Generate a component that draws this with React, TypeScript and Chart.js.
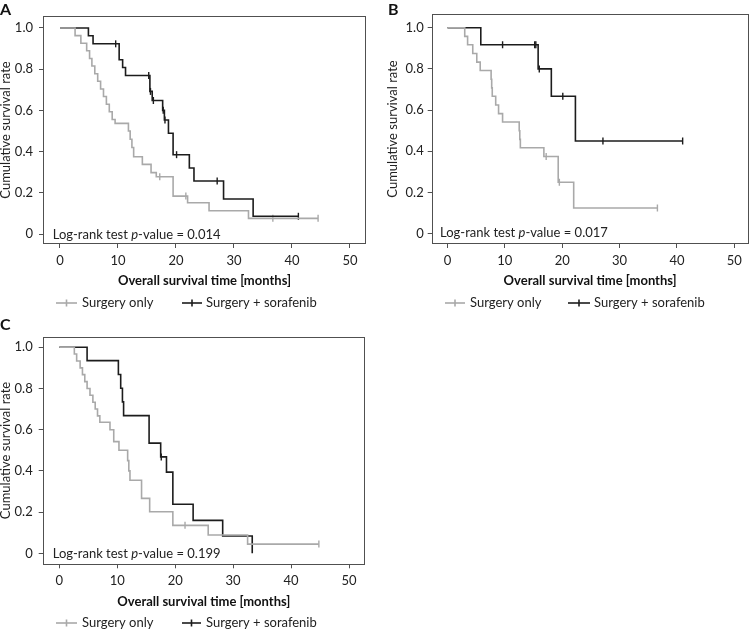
import React, { useEffect, useRef } from 'react';
import { Chart, registerables } from 'chart.js';

Chart.register(...registerables);

// ---------- tick labels / texts ----------
const X_TICKS = [0, 10, 20, 30, 40, 50];
const Y_TICKS = [0, 0.2, 0.4, 0.6, 0.8, 1.0];
const SERIES_LABELS = ['Surgery only', 'Surgery + sorafenib'];
const PANEL_LETTERS = ['A', 'B', 'C'];
const P_VALUES = ['0.014', '0.017', '0.199'];
const X_TITLE = 'Overall survival time [months]';
const Y_TITLE = 'Cumulative survival rate';

// ---------- Panel A ----------
const A_ONLY_T = [0, 2.6, 3.6, 4.6, 5.1, 5.5, 6.0, 6.5, 7.0, 7.5, 8.0, 8.5, 9.0, 9.5, 11.8, 12.1, 12.4, 12.7, 14.2, 15.7, 16.6, 19.5, 22.0, 25.7, 32.5];
const A_ONLY_S = [1, 0.963, 0.926, 0.889, 0.852, 0.815, 0.778, 0.741, 0.704, 0.667, 0.63, 0.593, 0.556, 0.537, 0.5, 0.46, 0.42, 0.375, 0.338, 0.298, 0.278, 0.184, 0.152, 0.113, 0.076];
const A_ONLY_CT = [17.2, 21.7, 36.7, 44.5];
const A_ONLY_CS = [0.278, 0.184, 0.076, 0.076];

const A_SORA_T = [0, 4.9, 5.7, 10.2, 10.8, 11.3, 15.5, 15.9, 17.7, 18.0, 18.7, 19.5, 22.3, 23.1, 28.2, 33.3];
const A_SORA_S = [1, 0.962, 0.923, 0.846, 0.808, 0.769, 0.692, 0.648, 0.6, 0.553, 0.489, 0.385, 0.32, 0.257, 0.17, 0.086];
const A_SORA_CT = [9.6, 15.3, 15.6, 16.1, 17.8, 18.1, 20.1, 27.1, 41.1];
const A_SORA_CS = [0.923, 0.769, 0.692, 0.648, 0.6, 0.553, 0.385, 0.257, 0.086];

// ---------- Panel B ----------
const B_ONLY_T = [0, 3.0, 3.5, 4.4, 5.1, 5.7, 7.6, 7.7, 7.8, 8.4, 8.9, 9.6, 12.5, 12.6, 12.7, 16.8, 19.3, 22.0];
const B_ONLY_S = [1, 0.958, 0.917, 0.875, 0.833, 0.792, 0.75, 0.708, 0.667, 0.625, 0.583, 0.542, 0.5, 0.458, 0.417, 0.375, 0.25, 0.125];
const B_ONLY_CT = [17.2, 19.5, 36.6];
const B_ONLY_CS = [0.375, 0.25, 0.125];

const B_SORA_T = [0, 5.8, 15.8, 18.1, 22.3];
const B_SORA_S = [1, 0.917, 0.8, 0.667, 0.45];
const B_SORA_CT = [9.6, 15.2, 15.4, 16.0, 20.1, 27.1, 41.0];
const B_SORA_CS = [0.917, 0.917, 0.917, 0.8, 0.667, 0.45, 0.45];

// ---------- Panel C ----------
const C_ONLY_T = [0, 2.6, 3.0, 3.6, 4.0, 4.4, 4.8, 5.3, 5.8, 6.2, 6.6, 7.0, 8.75, 9.4, 10.3, 11.8, 12.0, 12.2, 14.2, 15.6, 19.6, 25.7, 32.5];
const C_ONLY_S = [1, 0.967, 0.933, 0.9, 0.867, 0.833, 0.8, 0.767, 0.733, 0.7, 0.667, 0.636, 0.6, 0.542, 0.5, 0.45, 0.4, 0.355, 0.267, 0.202, 0.136, 0.089, 0.045];
const C_ONLY_CT = [21.7, 44.8];
const C_ONLY_CS = [0.136, 0.045];

const C_SORA_T = [0, 4.8, 10.2, 10.6, 10.9, 11.1, 15.5, 17.5, 18.5, 19.6, 23.1, 28.2, 33.3];
const C_SORA_S = [1, 0.935, 0.868, 0.801, 0.735, 0.668, 0.535, 0.468, 0.394, 0.238, 0.16, 0.084, 0];
const C_SORA_CT = [17.6];
const C_SORA_CS = [0.468];

// ---------- styles ----------
const FONT = 'Lato, "Open Sans", "DejaVu Sans", sans-serif';
const GRAY = '#a9a9a9';
const BLACK = '#1c1c1c';
const AXIS = '#505050';
const TEXT = '#222222';

type Series = { t: number[]; s: number[]; ct: number[]; cs: number[] };

const mk = (t: number[], s: number[], ct: number[], cs: number[]): Series => ({ t, s, ct, cs });

const DATA: { only: Series; sora: Series }[] = [
  { only: mk(A_ONLY_T, A_ONLY_S, A_ONLY_CT, A_ONLY_CS), sora: mk(A_SORA_T, A_SORA_S, A_SORA_CT, A_SORA_CS) },
  { only: mk(B_ONLY_T, B_ONLY_S, B_ONLY_CT, B_ONLY_CS), sora: mk(B_SORA_T, B_SORA_S, B_SORA_CT, B_SORA_CS) },
  { only: mk(C_ONLY_T, C_ONLY_S, C_ONLY_CT, C_ONLY_CS), sora: mk(C_SORA_T, C_SORA_S, C_SORA_CT, C_SORA_CS) },
];

type Layout = {
  left: number; top: number; w: number; h: number;
  padL: number; yW: number; padT: number; padR: number; xH: number;
  xMin: number; xMax: number; yMin: number; yMax: number;
  letterX: number; letterY: number; pX: number; pY: number;
  legY: number; leg: number[]; xTitlePad: number; yTitlePad: number; yTickPad: number;
};

const LAYOUTS: Layout[] = [
  { left: 0, top: 0, w: 375, h: 315, padL: 0, yW: 43, padT: 16, padR: 9, xH: 71,
    xMin: -2.93, xMax: 52.76, yMin: -0.0485, yMax: 1.058,
    letterX: 0, letterY: 15, pX: 52.7, pY: 234.5, legY: 303, leg: [56, 77, 82, 182, 202, 206],
    xTitlePad: 26, yTitlePad: -2, yTickPad: 6 },
  { left: 375, top: 0, w: 379, h: 315, padL: 12, yW: 44.7, padT: 14, padR: 1.5, xH: 71,
    xMin: -2.76, xMax: 52.5, yMin: -0.05, yMax: 1.0665,
    letterX: 13, letterY: 15, pX: 65, pY: 233, legY: 303, leg: [70, 90, 95, 193, 215, 219],
    xTitlePad: 26, yTitlePad: -2, yTickPad: 4 },
  { left: 0, top: 315, w: 375, h: 316, padL: 0, yW: 42.7, padT: 21.7, padR: 10, xH: 66.7,
    xMin: -2.86, xMax: 52.76, yMin: -0.053, yMax: 1.051,
    letterX: 0, letterY: 15, pX: 52.7, pY: 239.3, legY: 308, leg: [56, 77, 82, 182, 201, 206],
    xTitlePad: 21.5, yTitlePad: -2, yTickPad: 6 },
];

function stepPoints(s: Series) {
  const pts = s.t.map((x, i) => ({ x, y: s.s[i] }));
  const lastT = s.t[s.t.length - 1];
  const lastCT = s.ct.length ? Math.max(...s.ct) : lastT;
  if (lastCT > lastT) pts.push({ x: lastCT, y: s.s[s.s.length - 1] });
  return pts;
}

function censorPoints(s: Series) {
  return s.ct.map((x, i) => ({ x, y: s.cs[i] }));
}

function Panel({ idx }: { idx: number }) {
  const ref = useRef<HTMLCanvasElement>(null);
  const L = LAYOUTS[idx];
  useEffect(() => {
    if (!ref.current) return;
    const d = DATA[idx];
    const decor = {
      id: 'decor' + idx,
      beforeDatasetsDraw(chart: any) {
        const ctx = chart.ctx;
        const a = chart.chartArea;
        ctx.save();
        ctx.strokeStyle = AXIS;
        ctx.lineWidth = 1;
        ctx.strokeRect(Math.round(a.left) + 0.5, Math.round(a.top) + 0.5, Math.round(a.right - a.left) - 1, Math.round(a.bottom - a.top) - 1);
        ctx.restore();
      },
      afterDraw(chart: any) {
        const ctx = chart.ctx;
        ctx.save();
        // panel letter
        ctx.fillStyle = '#111';
        ctx.font = `bold 16px ${FONT}`;
        ctx.textBaseline = 'alphabetic';
        ctx.textAlign = 'left';
        ctx.fillText(PANEL_LETTERS[idx], L.letterX, L.letterY);
        // p-value text
        ctx.fillStyle = TEXT;
        ctx.textBaseline = 'middle';
        const normal = `13px ${FONT}`;
        const italic = `italic 13px ${FONT}`;
        let x = L.pX;
        const parts: [string, string][] = [['Log-rank test ', normal], ['p', italic], ['-value = ' + P_VALUES[idx], normal]];
        for (const [txt, f] of parts) {
          ctx.font = f;
          ctx.fillText(txt, x, L.pY);
          x += ctx.measureText(txt).width;
        }
        // legend
        const items: [number, number, number, string, string][] = [
          [L.leg[0], L.leg[1], L.leg[2], GRAY, SERIES_LABELS[0]],
          [L.leg[3], L.leg[4], L.leg[5], BLACK, SERIES_LABELS[1]],
        ];
        ctx.font = normal;
        for (const [x1, x2, tx, col, lab] of items) {
          ctx.strokeStyle = col;
          ctx.lineWidth = 1.6;
          ctx.beginPath();
          ctx.moveTo(x1, L.legY);
          ctx.lineTo(x2, L.legY);
          ctx.stroke();
          const mx = (x1 + x2) / 2;
          ctx.beginPath();
          ctx.moveTo(mx, L.legY - 3.5);
          ctx.lineTo(mx, L.legY + 3.5);
          ctx.stroke();
          ctx.fillStyle = TEXT;
          ctx.fillText(lab, tx, L.legY);
        }
        ctx.restore();
      },
    };

    const chart = new Chart(ref.current, {
      type: 'line',
      data: {
        datasets: [
          { label: SERIES_LABELS[0], data: stepPoints(d.only), stepped: true, borderColor: GRAY, borderWidth: 1.6, pointRadius: 0, fill: false },
          { label: SERIES_LABELS[1], data: stepPoints(d.sora), stepped: true, borderColor: BLACK, borderWidth: 1.6, pointRadius: 0, fill: false },
          { label: SERIES_LABELS[0] + ' censored', data: censorPoints(d.only), showLine: false, pointStyle: 'line', rotation: 90, pointRadius: 3.5, borderColor: GRAY, borderWidth: 1.4 } as any,
          { label: SERIES_LABELS[1] + ' censored', data: censorPoints(d.sora), showLine: false, pointStyle: 'line', rotation: 90, pointRadius: 3.5, borderColor: BLACK, borderWidth: 1.4 } as any,
        ],
      },
      options: {
        animation: false,
        responsive: false,
        maintainAspectRatio: false,
        devicePixelRatio: 1,
        layout: { padding: { left: L.padL, top: L.padT, right: L.padR, bottom: 0 } },
        plugins: { legend: { display: false }, tooltip: { enabled: false } },
        events: [],
        scales: {
          x: {
            type: 'linear',
            min: L.xMin,
            max: L.xMax,
            afterBuildTicks: (s: any) => { s.ticks = X_TICKS.map((v) => ({ value: v })); },
            afterFit: (s: any) => { s.height = L.xH; },
            ticks: { color: TEXT, font: { family: FONT, size: 13 }, padding: 5, maxRotation: 0, autoSkip: false, callback: (v: any) => String(v) },
            grid: { drawOnChartArea: false, drawTicks: true, tickLength: 4, color: AXIS, tickColor: AXIS },
            border: { display: false },
            title: { display: true, text: X_TITLE, color: '#111', font: { family: FONT, size: 13, weight: 'bold', lineHeight: 1.2 }, padding: { top: 0, bottom: L.xTitlePad } },
          },
          y: {
            type: 'linear',
            min: L.yMin,
            max: L.yMax,
            afterBuildTicks: (s: any) => { s.ticks = Y_TICKS.map((v) => ({ value: v })); },
            afterFit: (s: any) => { s.width = L.yW; },
            ticks: { color: TEXT, font: { family: FONT, size: 13 }, padding: L.yTickPad, autoSkip: false, callback: (v: any) => (v === 0 ? '0' : Number(v).toFixed(1)) },
            grid: { drawOnChartArea: false, drawTicks: true, tickLength: 4, color: AXIS, tickColor: AXIS },
            border: { display: false },
            title: { display: true, text: Y_TITLE, color: TEXT, font: { family: FONT, size: 13, lineHeight: 1.2 }, padding: { top: L.yTitlePad, bottom: 0 } },
          },
        },
      },
      plugins: [decor],
    } as any);
    return () => chart.destroy();
  }, [idx]);

  return (
    <canvas
      ref={ref}
      width={L.w}
      height={L.h}
      style={{ position: 'absolute', left: L.left, top: L.top, width: L.w, height: L.h }}
    />
  );
}

export default function App() {
  return (
    <div style={{ position: 'fixed', left: 0, top: 0, width: 754, height: 631, background: '#fff', overflow: 'hidden' }}>
      {LAYOUTS.map((_, i) => (
        <Panel key={i} idx={i} />
      ))}
    </div>
  );
}
